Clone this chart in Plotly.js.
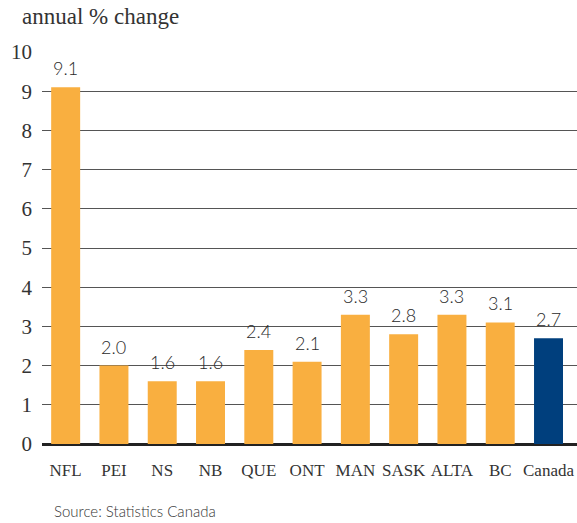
<!DOCTYPE html>
<html>
<head>
<meta charset="utf-8">
<script src="https://cdn.plot.ly/plotly-3.0.1.min.js"></script>
<style>html,body{margin:0;padding:0;background:#fff;}#chart{width:577px;height:523px;}</style>
</head>
<body>
<div id="chart"></div>
<script>
const categories = ["NFL","PEI","NS","NB","QUE","ONT","MAN","SASK","ALTA","BC","Canada"];
const values = [9.1, 2.0, 1.6, 1.6, 2.4, 2.1, 3.3, 2.8, 3.3, 3.1, 2.7];
const labels = ["9.1","2.0","1.6","1.6","2.4","2.1","3.3","2.8","3.3","3.1","2.7"];
const yTicks = [0,1,2,3,4,5,6,7,8,9,10];

const orange = "#F9AF40";
const blue = "#003F7D";
const colors = categories.map(c => c === "Canada" ? blue : orange);

const trace = {
  type: "bar",
  x: categories,
  y: values,
  marker: {color: colors, line: {width: 0}},
  hoverinfo: "skip"
};

const annotations = categories.map((c, i) => ({
  x: c, y: values[i], text: labels[i], showarrow: false,
  xanchor: "center", yanchor: "bottom", yshift: 6,
  font: {family: "Lato, 'DejaVu Sans', sans-serif", size: 18, color: "#2a2a2a", weight: 300}
}));
annotations.push({
  xref: "paper", yref: "paper", x: -22/535, y: 1, yshift: 21, xanchor: "left", yanchor: "bottom",
  text: "annual % change", showarrow: false,
  font: {family: "'Liberation Serif', serif", size: 23, color: "#333"}
});
annotations.push({
  xref: "paper", yref: "paper", x: 10/535, y: 0, yshift: -56, xanchor: "left", yanchor: "top",
  text: "Source: Statistics Canada", showarrow: false,
  font: {family: "Lato, 'DejaVu Sans', sans-serif", size: 15, color: "#333", weight: 300}
});

const layout = {
  width: 577, height: 523,
  margin: {l: 42, r: 0, t: 52, b: 79},
  paper_bgcolor: "#fff", plot_bgcolor: "#fff",
  showlegend: false,
  bargap: 0.4,
  xaxis: {
    range: [-0.49, 10.59],
    showgrid: false, zeroline: false, showline: false,
    ticks: "", ticklabelstandoff: 14,
    tickfont: {family: "'Liberation Serif', serif", size: 17, color: "#333"},
    fixedrange: true
  },
  yaxis: {
    range: [0, 10],
    tickvals: yTicks,
    ticktext: yTicks.map(String),
    showgrid: true, gridcolor: "#555", gridwidth: 1,
    zeroline: true, zerolinecolor: "#222", zerolinewidth: 3,
    showline: false, ticks: "", ticklabelstandoff: 9,
    tickfont: {family: "'Liberation Serif', serif", size: 21, color: "#333"},
    fixedrange: true
  },
  annotations: annotations
};

Plotly.newPlot("chart", [trace], layout, {displayModeBar: false, staticPlot: true});
</script>
</body>
</html>
